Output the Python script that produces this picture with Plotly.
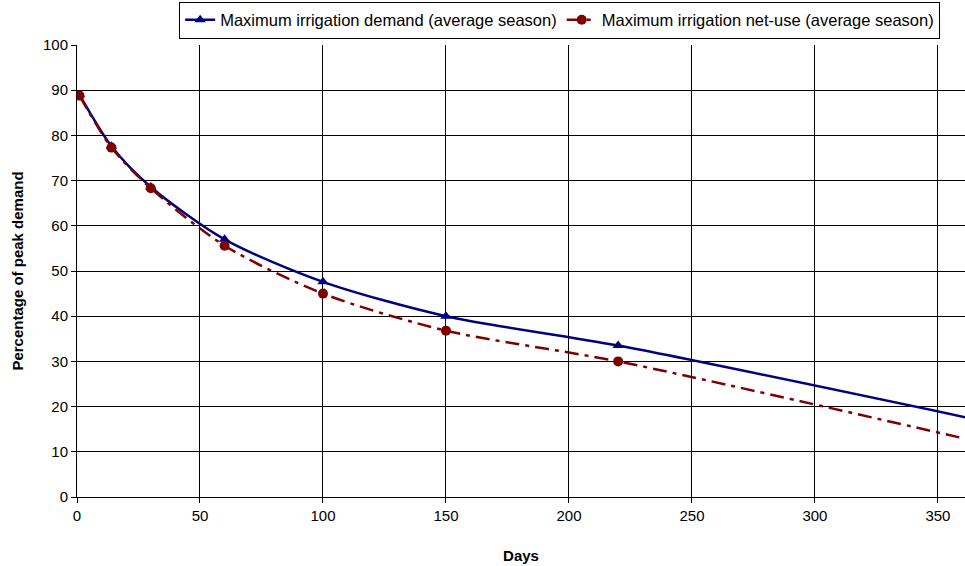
import plotly.graph_objects as go

# Days since start of season
days = [1, 14, 30, 60, 100, 150, 220, 365]

# Percentage of peak demand
demand = [89.0, 77.6, 68.6, 57.0, 47.6, 40.0, 33.5, 17.2]
net_use = [88.8, 77.3, 68.3, 55.6, 45.0, 36.8, 30.0, 12.4]

series_names = [
    "Maximum irrigation demand (average season)",
    "Maximum irrigation net-use (average season)",
]

x_ticks = [0, 50, 100, 150, 200, 250, 300, 350]
y_ticks = [0, 10, 20, 30, 40, 50, 60, 70, 80, 90, 100]

FONT = "Arial, Liberation Sans, sans-serif"

fig = go.Figure()

fig.add_trace(go.Scatter(
    x=days, y=demand, name=series_names[0],
    mode="lines+markers",
    line=dict(color="#000080", width=2.5, shape="spline", smoothing=0.8),
    marker=dict(symbol="triangle-up", size=10, color="#000080"),
))

fig.add_trace(go.Scatter(
    x=days, y=net_use, name=series_names[1],
    mode="lines+markers",
    line=dict(color="#800000", width=2.5, shape="spline", smoothing=0.8,
              dash="14px,6px,4px,6px"),
    marker=dict(symbol="circle", size=10, color="#800000"),
))

tick_font = dict(family=FONT, size=15, color="black")
title_font = dict(family=FONT, size=15, color="black")

fig.update_layout(
    width=965, height=566,
    margin=dict(l=77, r=0, t=45, b=69),
    paper_bgcolor="white",
    plot_bgcolor="white",
    font=tick_font,
    showlegend=True,
    legend=dict(
        orientation="h",
        x=0.972, xanchor="right",
        y=1.096, yanchor="top",
        bgcolor="white",
        bordercolor="black", borderwidth=1,
        font=dict(family=FONT, size=16.5, color="black"),
        tracegroupgap=0,
    ),
    xaxis=dict(
        range=[0, 361],
        tickvals=x_ticks,
        showgrid=True, gridcolor="black", gridwidth=1,
        showline=True, linecolor="black", linewidth=1,
        ticks="outside", ticklen=5, tickcolor="black",
        zeroline=False,
        tickfont=tick_font,
        title=dict(text="<b>Days</b>", font=title_font, standoff=27),
    ),
    yaxis=dict(
        range=[0, 100],
        tickvals=y_ticks,
        showgrid=True, gridcolor="black", gridwidth=1,
        showline=True, linecolor="black", linewidth=1,
        ticks="outside", ticklen=5, tickcolor="black",
        zeroline=False,
        tickfont=tick_font,
        title=dict(text="<b>Percentage of peak demand</b>", font=title_font, standoff=15),
    ),
)

fig.write_html("out.html")
